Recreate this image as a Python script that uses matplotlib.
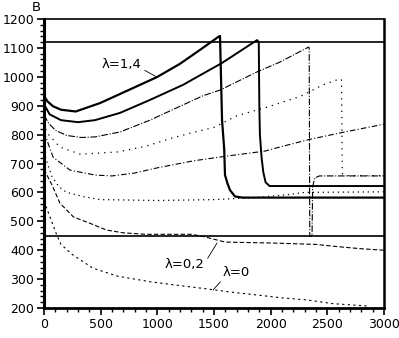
import matplotlib
matplotlib.use('Agg')
import matplotlib.pyplot as plt
from matplotlib.ticker import MultipleLocator

# curves, top (lambda=1.4) to bottom (lambda=0)
x_l14 = [0, 30, 80, 150, 280, 494, 785, 997, 1200, 1376, 1545, 1553, 1571, 1590, 1597, 1620, 1641, 1685, 1750, 3000]
y_l14 = [935, 915, 898, 886, 880, 909, 961, 999, 1045, 1093, 1140, 1141, 850, 750, 660, 630, 608, 586, 582, 582]

x_l12 = [0, 50, 150, 300, 450, 670, 935, 1226, 1571, 1880, 1895, 1900, 1905, 1920, 1935, 1955, 1990, 3000]
y_l12 = [905, 870, 850, 843, 850, 875, 920, 972, 1048, 1127, 1120, 900, 800, 720, 670, 635, 622, 622]

x_l10 = [0, 40, 100, 200, 330, 450, 670, 935, 1400, 1553, 1880, 2082, 2335, 2340, 2345, 2365, 2370, 2390, 2430, 3000]
y_l10 = [868, 840, 815, 797, 790, 792, 809, 850, 934, 954, 1017, 1051, 1103, 1100, 448, 448, 620, 650, 657, 657]

x_l08 = [0, 26, 140, 320, 650, 900, 1130, 1290, 1500, 1700, 1976, 2260, 2460, 2610, 2625, 2632, 2660, 3000]
y_l08 = [840, 806, 757, 732, 740, 760, 788, 805, 825, 865, 896, 932, 972, 993, 990, 665, 658, 658]

x_l06 = [0, 26, 80, 230, 450, 600, 800, 1000, 1315, 1600, 1950, 2080, 2350, 2640, 3000]
y_l06 = [810, 781, 722, 677, 660, 657, 667, 685, 709, 725, 743, 757, 784, 808, 836]

x_l04 = [0, 30, 70, 130, 200, 350, 500, 1000, 1500, 1900, 2150, 2300, 3000]
y_l04 = [740, 700, 655, 620, 600, 585, 575, 572, 575, 583, 592, 600, 602]

x_l02 = [0, 70, 140, 260, 400, 550, 700, 900, 1300, 1400, 1500, 1600, 2000, 2400, 2600, 2800, 3000]
y_l02 = [680, 626, 563, 515, 494, 470, 460, 455, 455, 448, 438, 428, 425, 420, 412, 405, 400]

x_l00 = [0, 70, 110, 150, 250, 430, 650, 950, 1230, 1400, 1650, 1880, 2100, 2320, 2550, 2850]
y_l00 = [570, 497, 455, 420, 385, 338, 310, 290, 276, 268, 255, 245, 235, 228, 215, 207]

levels = [1120, 450]

x_ticks = [0, 500, 1000, 1500, 2000, 2500, 3000]
y_ticks = [200, 300, 400, 500, 600, 700, 800, 900, 1000, 1100, 1200]

plt.rcParams['font.family'] = 'DejaVu Sans'
plt.rcParams['font.size'] = 9.5

fig = plt.figure(figsize=(3.99, 3.38), dpi=100)
ax = fig.add_axes([44/399, 30/338, 340/399, 289/338])

for lv in levels:
  ax.axhline(lv, color='black', lw=1.2)

ax.plot(x_l14, y_l14, color='black', lw=1.6)
ax.plot(x_l12, y_l12, color='black', lw=1.4)
ax.plot(x_l10, y_l10, color='black', lw=0.8, ls=(0, (6, 1.5, 1, 1.5)))
ax.plot(x_l08, y_l08, color='black', lw=0.9, ls=(0, (1, 4)))
ax.plot(x_l06, y_l06, color='black', lw=0.8, ls=(0, (5, 2, 1, 2)))
ax.plot(x_l04, y_l04, color='black', lw=0.9, ls=(0, (1, 3)))
ax.plot(x_l02, y_l02, color='black', lw=0.8, ls=(0, (4, 2)))
ax.plot(x_l00, y_l00, color='black', lw=0.8, ls=(0, (2, 3)))

arrow = dict(arrowstyle='-', lw=0.6, color='black', shrinkA=0, shrinkB=0)
ax.annotate('λ=1,4', xy=(997, 999), xytext=(512, 1041), ha='left', va='center',
            arrowprops=dict(arrow, relpos=(1, 0.2)))
ax.annotate('λ=0,2', xy=(1527, 425), xytext=(1068, 352), ha='left', va='center',
            arrowprops=dict(arrow, relpos=(1, 0.6)))
ax.annotate('λ=0', xy=(1491, 262), xytext=(1579, 323), ha='left', va='center',
            arrowprops=dict(arrow, relpos=(0, 0)))

ax.set_xlim(0, 3000)
ax.set_ylim(200, 1200)
ax.set_xticks(x_ticks)
ax.set_yticks(y_ticks)
ax.xaxis.set_minor_locator(MultipleLocator(100))
ax.yaxis.set_minor_locator(MultipleLocator(20))
ax.tick_params(which='major', direction='out', length=5, width=1.2, pad=2, labelsize=9)
ax.tick_params(which='minor', direction='out', length=3, width=1)

ax.spines['left'].set_linewidth(2.2)
ax.spines['bottom'].set_linewidth(2)
ax.spines['top'].set_linewidth(1.2)
ax.spines['right'].set_linewidth(1.8)

fig.text(32/399, 1 - 1/338, 'B', ha='left', va='top', fontsize=9.5)

fig.savefig('out.png', dpi=100)
